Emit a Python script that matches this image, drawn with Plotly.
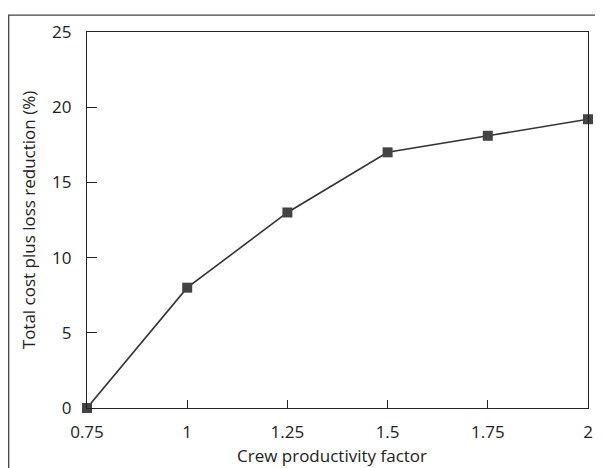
import plotly.graph_objects as go

crew_factor = [0.75, 1.0, 1.25, 1.5, 1.75, 2.0]
reduction_pct = [0, 8, 13, 17, 18.1, 19.2]
x_ticks = [0.75, 1, 1.25, 1.5, 1.75, 2]
x_tick_labels = ["0.75", "1", "1.25", "1.5", "1.75", "2"]
y_ticks = [0, 5, 10, 15, 20, 25]

FONT = "Open Sans"
INK = "#222222"

fig = go.Figure()
fig.add_trace(go.Scatter(
    x=crew_factor, y=reduction_pct, mode="lines+markers",
    line=dict(color="#333333", width=1.6),
    marker=dict(symbol="square", size=10, color="#444444"),
    cliponaxis=False, showlegend=False,
))

axis_common = dict(showline=True, linecolor=INK, linewidth=1.3, mirror=True,
                   ticks="inside", tickcolor=INK, showgrid=False, zeroline=False,
                   tickfont=dict(family=FONT, size=17, color=INK))

# page has an 8px body margin, so the layout is shifted by -8px to line up
L, T, R, B = 79, 21, 23, 68
PW, PH = 603 - L - R, 468 - T - B

fig.update_layout(
    width=603, height=468,
    margin=dict(l=L, r=R, t=T, b=B),
    paper_bgcolor="white", plot_bgcolor="white",
    xaxis=dict(range=[0.75, 2], tickvals=x_ticks, ticktext=x_tick_labels,
               ticklen=8, ticklabelstandoff=8, **axis_common),
    yaxis=dict(range=[0, 25], tickvals=y_ticks, ticklen=10, ticklabelstandoff=11,
               title=dict(text="Total cost plus loss reduction (%)", font=dict(family=FONT, size=17, color=INK), standoff=12),
               **axis_common),
    annotations=[dict(text="Crew productivity factor", xref="paper", yref="paper",
                      x=(332 - 87) / PW, y=-48 / PH, xanchor="center", yanchor="middle",
                      showarrow=False, font=dict(family=FONT, size=17, color=INK))],
    shapes=[dict(type="rect", xref="paper", yref="paper",
                 x0=(0.7 - L) / PW, x1=1.2, y0=-0.3, y1=1 + (T - 4) / PH,
                 line=dict(color="#444444", width=1.3), layer="above")],
)

fig.write_html("out.html")
